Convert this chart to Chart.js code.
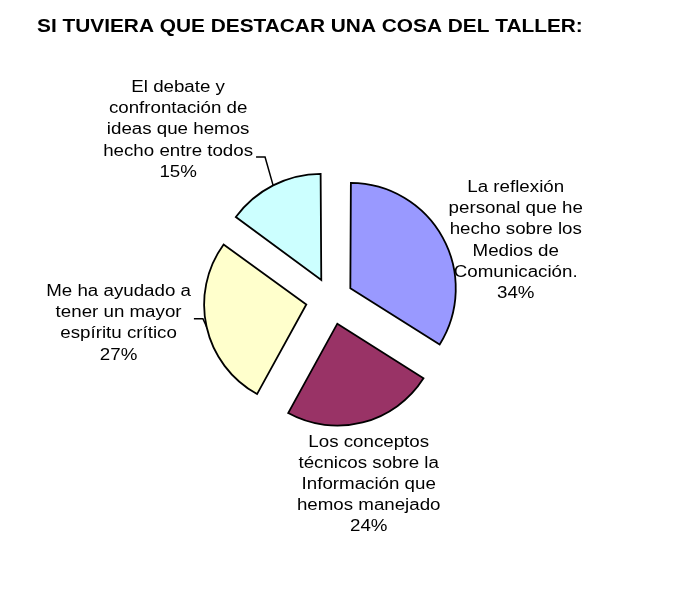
<!DOCTYPE html>
<html>
<head>
<meta charset="utf-8">
<script src="https://cdn.jsdelivr.net/npm/chart.js@4.4.1/dist/chart.umd.min.js"></script>
<style>
  html, body { margin: 0; padding: 0; background: #fff; }
  #wrap { width: 685px; height: 605px; position: relative; }
</style>
</head>
<body>
<div id="wrap"><canvas id="pieChart"></canvas></div>
<script>
// chart data
const chartTitle = 'SI TUVIERA QUE DESTACAR UNA COSA DEL TALLER:';
const categories = [
    ['La reflexión', 'personal que he', 'hecho sobre los', 'Medios de', 'Comunicación.'],
    ['Los conceptos', 'técnicos sobre la', 'Información que', 'hemos manejado'],
    ['Me ha ayudado a', 'tener un mayor', 'espíritu crítico'],
    ['El debate y', 'confrontación de', 'ideas que hemos', 'hecho entre todos']
];
const values = [34, 24, 27, 15];
const sliceColors = ['#9999FF', '#993366', '#FFFFCC', '#CCFFFF'];

// layout of the labels (offset of label centre from the slice's outer mid point)
const labelOffset = [[73, 3], [6, 62], [-88, -3.5], [-95, -55.5]];
const leaderLine = [-1, -1, 1, 3];   // which text line the leader line attaches to
const EXPLODE = 25.5;
const RADIUS = 102;
const FONT = '"Liberation Sans", Arial, sans-serif';
const STRETCH = 1.17;        // text in the original is drawn a bit wide
const TITLE_STRETCH = 1.158;
const LINE_H = 21.2;

const total = values.reduce((a, b) => a + b, 0);

// Chart.js moves an arc by offset/4 * (1 + fix); pick the offset so every slice moves EXPLODE px
function explodeOffset(ctx) {
    const circ = values[ctx.dataIndex] / total * Math.PI * 2;
    const fix = 1 - Math.sin(Math.min(Math.PI, circ));
    return 4 * EXPLODE / (1 + fix);
}

function drawWide(ctx, text, x, y, align, sx) {
    ctx.save();
    ctx.translate(x, y);
    ctx.scale(sx, 1);
    ctx.textAlign = align;
    ctx.fillText(text, 0, 0);
    ctx.restore();
}

const labelPlugin = {
    id: 'sliceLabels',
    afterDraw(chart) {
        const ctx = chart.ctx;
        ctx.save();
        ctx.fillStyle = '#000';

        // title
        ctx.font = 'bold 18px ' + FONT;
        ctx.textBaseline = 'alphabetic';
        drawWide(ctx, chartTitle, 37, 32, 'left', TITLE_STRETCH);

        ctx.font = '16px ' + FONT;
        ctx.textBaseline = 'middle';
        const arcs = chart.getDatasetMeta(0).data;
        arcs.forEach((arc, i) => {
            const mid = (arc.startAngle + arc.endAngle) / 2;
            const dx = Math.cos(mid), dy = Math.sin(mid);
            const px = arc.x + dx * (EXPLODE + arc.outerRadius);
            const py = arc.y + dy * (EXPLODE + arc.outerRadius);
            const lines = categories[i].concat([Math.round(values[i] / total * 100) + '%']);
            const cx = px + labelOffset[i][0];
            const cy = py + labelOffset[i][1];
            const top = cy - (lines.length - 1) * LINE_H / 2;
            let maxW = 0;
            lines.forEach((line, k) => {
                drawWide(ctx, line, cx, top + k * LINE_H, 'center', STRETCH);
                maxW = Math.max(maxW, ctx.measureText(line).width * STRETCH);
            });
            if (leaderLine[i] >= 0) {
                const ly = top + leaderLine[i] * LINE_H + 6;
                const lx = cx + maxW / 2 + 3;
                ctx.beginPath();
                ctx.moveTo(px, py);
                ctx.lineTo(lx + 9, ly);
                ctx.lineTo(lx, ly);
                ctx.strokeStyle = '#000';
                ctx.lineWidth = 1.5;
                ctx.stroke();
            }
        });
        ctx.restore();
    }
};

new Chart(document.getElementById('pieChart').getContext('2d'), {
    type: 'pie',
    data: {
        labels: categories,
        datasets: [{
            data: values,
            backgroundColor: sliceColors,
            borderColor: '#000',
            borderWidth: 1.8,
            borderJoinStyle: 'miter',
            offset: explodeOffset,
            hoverOffset: 0,
            radius: RADIUS
        }]
    },
    options: {
        responsive: true,
        maintainAspectRatio: false,
        animation: false,
        events: [],
        layout: { padding: { left: 0, right: 23, top: 40, bottom: 47 } },
        plugins: {
            legend: { display: false },
            title: { display: false },
            tooltip: { enabled: false }
        }
    },
    plugins: [labelPlugin]
});
</script>
</body>
</html>
